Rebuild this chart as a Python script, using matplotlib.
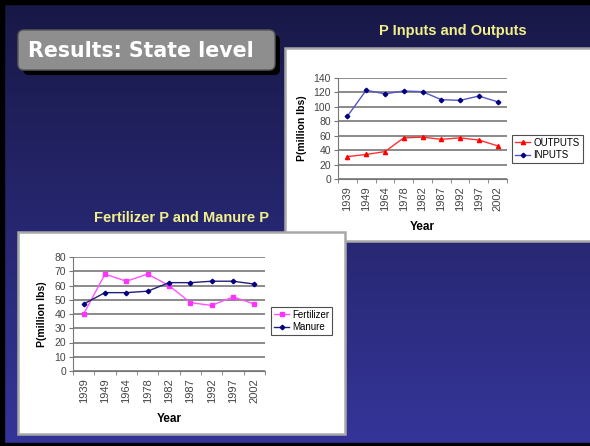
import numpy as np
import matplotlib
matplotlib.use("Agg")
import matplotlib.pyplot as plt
from matplotlib.patches import Rectangle, FancyBboxPatch

years = ["1939", "1949", "1964", "1978", "1982", "1987", "1992", "1997", "2002"]

# P inputs and outputs (million lbs)
outputs = [31, 34, 38, 57, 58, 55, 57, 54, 46]
inputs = [87, 123, 118, 122, 121, 110, 109, 115, 107]

# Fertilizer P and manure P (million lbs)
fertilizer = [40, 68, 63, 68, 60, 48, 46, 52, 47]
manure = [47, 55, 55, 56, 62, 62, 63, 63, 61]

W, H = 590, 446
fig = plt.figure(figsize=(W / 100, H / 100), dpi=100)


def box(x0, y0, x1, y1):
    # pixel box (top-left origin) -> figure fractions [l, b, w, h]
    return [x0 / W, 1 - y1 / H, (x1 - x0) / W, (y1 - y0) / H]


# slide background
bg = fig.add_axes([0, 0, 1, 1])
grad = np.linspace(0, 1, 256)[:, None]
top = np.array([0x18, 0x18, 0x46]) / 255
bot = np.array([0x35, 0x35, 0x9a]) / 255
img = top + (bot - top) * grad[..., None]
bg.imshow(np.repeat(img, 2, axis=1), aspect="auto", extent=[0, W, H, 0])
bg.set_xlim(0, W)
bg.set_ylim(H, 0)
bg.axis("off")
# black frame on the edges
bg.add_patch(Rectangle((0, 0), W, 4, color="black"))
bg.add_patch(Rectangle((0, 0), 4, H, color="black"))
bg.add_patch(Rectangle((0, H - 3), W, 3, color="black"))

# title box with shadow
bg.add_patch(FancyBboxPatch((23, 35), 257, 40, boxstyle="round,pad=0,rounding_size=6",
                            fc="black", ec="none"))
bg.add_patch(FancyBboxPatch((18, 30), 257, 40, boxstyle="round,pad=0,rounding_size=6",
                            fc="#8e8e8e", ec="#5a5a5a", lw=1))
bg.text(28, 51, "Results: State level", color="white", fontsize=14.8,
        fontweight="bold", va="center", ha="left", family="DejaVu Sans")

# panel captions
bg.text(453, 31, "P Inputs and Outputs", color="#f2f08a", fontsize=10.5,
        fontweight="bold", ha="center", va="center", family="Liberation Sans")
bg.text(182, 218, "Fertilizer P and Manure P", color="#f2f08a", fontsize=10.5,
        fontweight="bold", ha="center", va="center", family="Liberation Sans")

# white panels
bg.add_patch(Rectangle((285, 48), 310, 193, fc="white", ec="#a8a8a8", lw=1.8))
bg.add_patch(Rectangle((18, 232), 327, 202, fc="white", ec="#a8a8a8", lw=1.8))


def draw_chart(rect, series, ymax, ystep, legend_box):
    ax = fig.add_axes(rect)
    ax.set_facecolor("none")
    x = np.arange(len(years))
    for vals, color, mcolor, marker, ms, label in series:
        ax.plot(x, vals, color=color, lw=1, marker=marker, ms=ms,
                mfc=mcolor, mec=mcolor, label=label)
    ax.set_xlim(-0.5, len(years) - 0.5)
    ax.set_ylim(0, ymax)
    ax.set_yticks(np.arange(0, ymax + 1, ystep))
    ax.yaxis.grid(True, color="#8a8a8a", lw=1.4)
    ax.set_axisbelow(True)
    ax.set_xticks(x)
    ax.set_xticklabels(years, rotation=90, fontsize=8, color="#444444",
                       family="Liberation Sans")
    ax.set_xticks(np.arange(-0.5, len(years)), minor=True)
    ax.tick_params(axis="x", which="major", length=0, pad=5)
    ax.tick_params(axis="x", which="minor", length=3, color="#777777")
    ax.tick_params(axis="y", length=3, color="#777777", labelsize=7.5,
                   labelcolor="#444444", pad=2)
    for lab in ax.get_yticklabels():
        lab.set_family("Liberation Sans")
    for s in ["top", "right"]:
        ax.spines[s].set_visible(False)
    ax.spines["left"].set_color("#777777")
    ax.spines["bottom"].set_color("#777777")
    ax.set_xlabel("Year", fontsize=8.5, fontweight="bold", family="Liberation Sans",
                  labelpad=7)
    ax.set_ylabel("P(million lbs)", fontsize=7.5, fontweight="bold",
                  family="Liberation Sans", labelpad=5)
    leg = ax.legend(loc="center left", bbox_to_anchor=legend_box,
                    bbox_transform=fig.transFigure, frameon=True, fancybox=False,
                    handlelength=1.6, borderpad=0.3, borderaxespad=0,
                    labelspacing=0.3, handletextpad=0.3,
                    prop={"family": "Liberation Sans", "size": 7})
    leg.get_frame().set_edgecolor("#222222")
    leg.get_frame().set_linewidth(0.8)
    return ax


draw_chart(box(338, 78, 507, 179),
           [(outputs, "#ff3030", "red", "^", 3, "OUTPUTS"),
            (inputs, "#5555c4", "#000080", "D", 2.3, "INPUTS")],
           140, 20, (512 / W, 1 - 149 / H))

draw_chart(box(73, 257, 265, 371),
           [(fertilizer, "#ff55ff", "#ff33ff", "s", 2.7, "Fertilizer"),
            (manure, "#20207a", "#000080", "D", 2.3, "Manure")],
           80, 10, (271 / W, 1 - 321 / H))

fig.savefig("out.png", dpi=100)
